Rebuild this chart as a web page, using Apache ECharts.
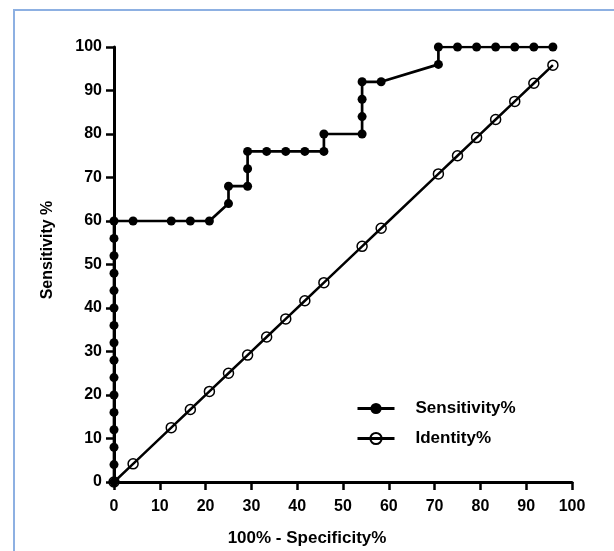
<!DOCTYPE html>
<html>
<head>
<meta charset="utf-8">
<script src="https://cdn.jsdelivr.net/npm/echarts@6/dist/echarts.min.js"></script>
<style>
  html, body { margin: 0; padding: 0; background: #fff; }
  #wrap { position: relative; width: 614px; height: 551px; overflow: hidden; }
  #frame { position: absolute; left: 13px; top: 9px; width: 700px; height: 700px;
           border-left: 2px solid #8db0e2; border-top: 2px solid #8db0e2; box-sizing: border-box; }
  #chart { position: absolute; left: 0; top: 0; width: 614px; height: 551px; }
</style>
</head>
<body>
<div id="wrap">
  <div id="frame"></div>
  <div id="chart"></div>
</div>
<script>
// ROC curve (100% - Specificity%, Sensitivity%)
const sensX = [0, 0, 0, 0, 0, 0, 0, 0, 0, 0, 0, 0, 0, 0, 0, 0,
  4.17, 12.5, 16.67, 20.83, 25, 25, 29.17, 29.17, 29.17, 33.33, 37.5, 41.67,
  45.83, 45.83, 54.17, 54.17, 54.17, 54.17, 58.33, 70.83, 70.83,
  75, 79.17, 83.33, 87.5, 91.67, 95.83];
const sensY = [0, 4, 8, 12, 16, 20, 24, 28, 32, 36, 40, 44, 48, 52, 56, 60,
  60, 60, 60, 60, 64, 68, 68, 72, 76, 76, 76, 76,
  76, 80, 80, 84, 88, 92, 92, 96, 100,
  100, 100, 100, 100, 100, 100];
// Identity line
const identX = [0, 4.17, 12.5, 16.67, 20.83, 25, 29.17, 33.33, 37.5, 41.67, 45.83,
  54.17, 58.33, 70.83, 75, 79.17, 83.33, 87.5, 91.67, 95.83];
const identY = [0, 4.17, 12.5, 16.67, 20.83, 25, 29.17, 33.33, 37.5, 41.67, 45.83,
  54.17, 58.33, 70.83, 75, 79.17, 83.33, 87.5, 91.67, 95.83];
const xTicks = [0, 10, 20, 30, 40, 50, 60, 70, 80, 90, 100];
const yTicks = [0, 10, 20, 30, 40, 50, 60, 70, 80, 90, 100];
const seriesNames = ['Sensitivity%', 'Identity%'];
const xTitle = '100% - Specificity%';
const yTitle = 'Sensitivity %';

const FONT = '"Liberation Sans", Arial, Helvetica, sans-serif';
const chart = echarts.init(document.getElementById('chart'), null, { renderer: 'canvas' });

const axisCommon = {
  type: 'value', min: 0, max: 100, interval: 10,
  splitLine: { show: false },
  axisLine: { show: true, onZero: false, lineStyle: { color: '#000', width: 3 } },
  axisTick: { show: true, inside: false, length: 8, lineStyle: { color: '#000', width: 2.5 } },
  axisLabel: { color: '#000', fontFamily: FONT, fontWeight: 'bold', fontSize: 16 }
};

chart.setOption({
  animation: false,
  backgroundColor: 'transparent',
  grid: { left: 114, right: 42, top: 47, bottom: 69, containLabel: false },
  xAxis: Object.assign({}, axisCommon, {
    axisLabel: Object.assign({}, axisCommon.axisLabel, { margin: 17,
      formatter: v => xTicks.includes(v) ? String(v) : '' })
  }),
  yAxis: Object.assign({}, axisCommon, {
    axisLabel: Object.assign({}, axisCommon.axisLabel, { margin: 12,
      formatter: v => yTicks.includes(v) ? String(v) : '' })
  }),
  legend: {
    orient: 'vertical', left: 356, top: 400, padding: 0,
    itemWidth: 37, itemHeight: 14, itemGap: 13,
    lineStyle: { width: 3 },
    textStyle: { color: '#000', fontFamily: FONT, fontWeight: 'bold', fontSize: 17, padding: [0, 0, 0, 16] },
    data: seriesNames
  },
  graphic: [
    { type: 'text', left: 'center', top: 530, style: { text: xTitle, fill: '#000',
      font: 'bold 17px ' + FONT }, x: 0 },
    { type: 'text', x: 48, y: 250, rotation: Math.PI / 2,
      style: { text: yTitle, fill: '#000', font: 'bold 16px ' + FONT,
        textAlign: 'center', textVerticalAlign: 'middle' } }
  ],
  series: [
    {
      name: seriesNames[0], type: 'line',
      data: sensX.map((x, i) => [x, sensY[i]]),
      symbol: 'circle', symbolSize: 9,
      lineStyle: { color: '#000', width: 2.7 },
      itemStyle: { color: '#000' },
      z: 3
    },
    {
      name: seriesNames[1], type: 'line',
      data: identX.map((x, i) => [x, identY[i]]),
      symbol: 'circle', symbolSize: 10,
      lineStyle: { color: '#000', width: 2.5 },
      itemStyle: { color: 'rgba(0,0,0,0)', borderColor: '#000', borderWidth: 1.5 },
      z: 4
    }
  ]
});
</script>
</body>
</html>
